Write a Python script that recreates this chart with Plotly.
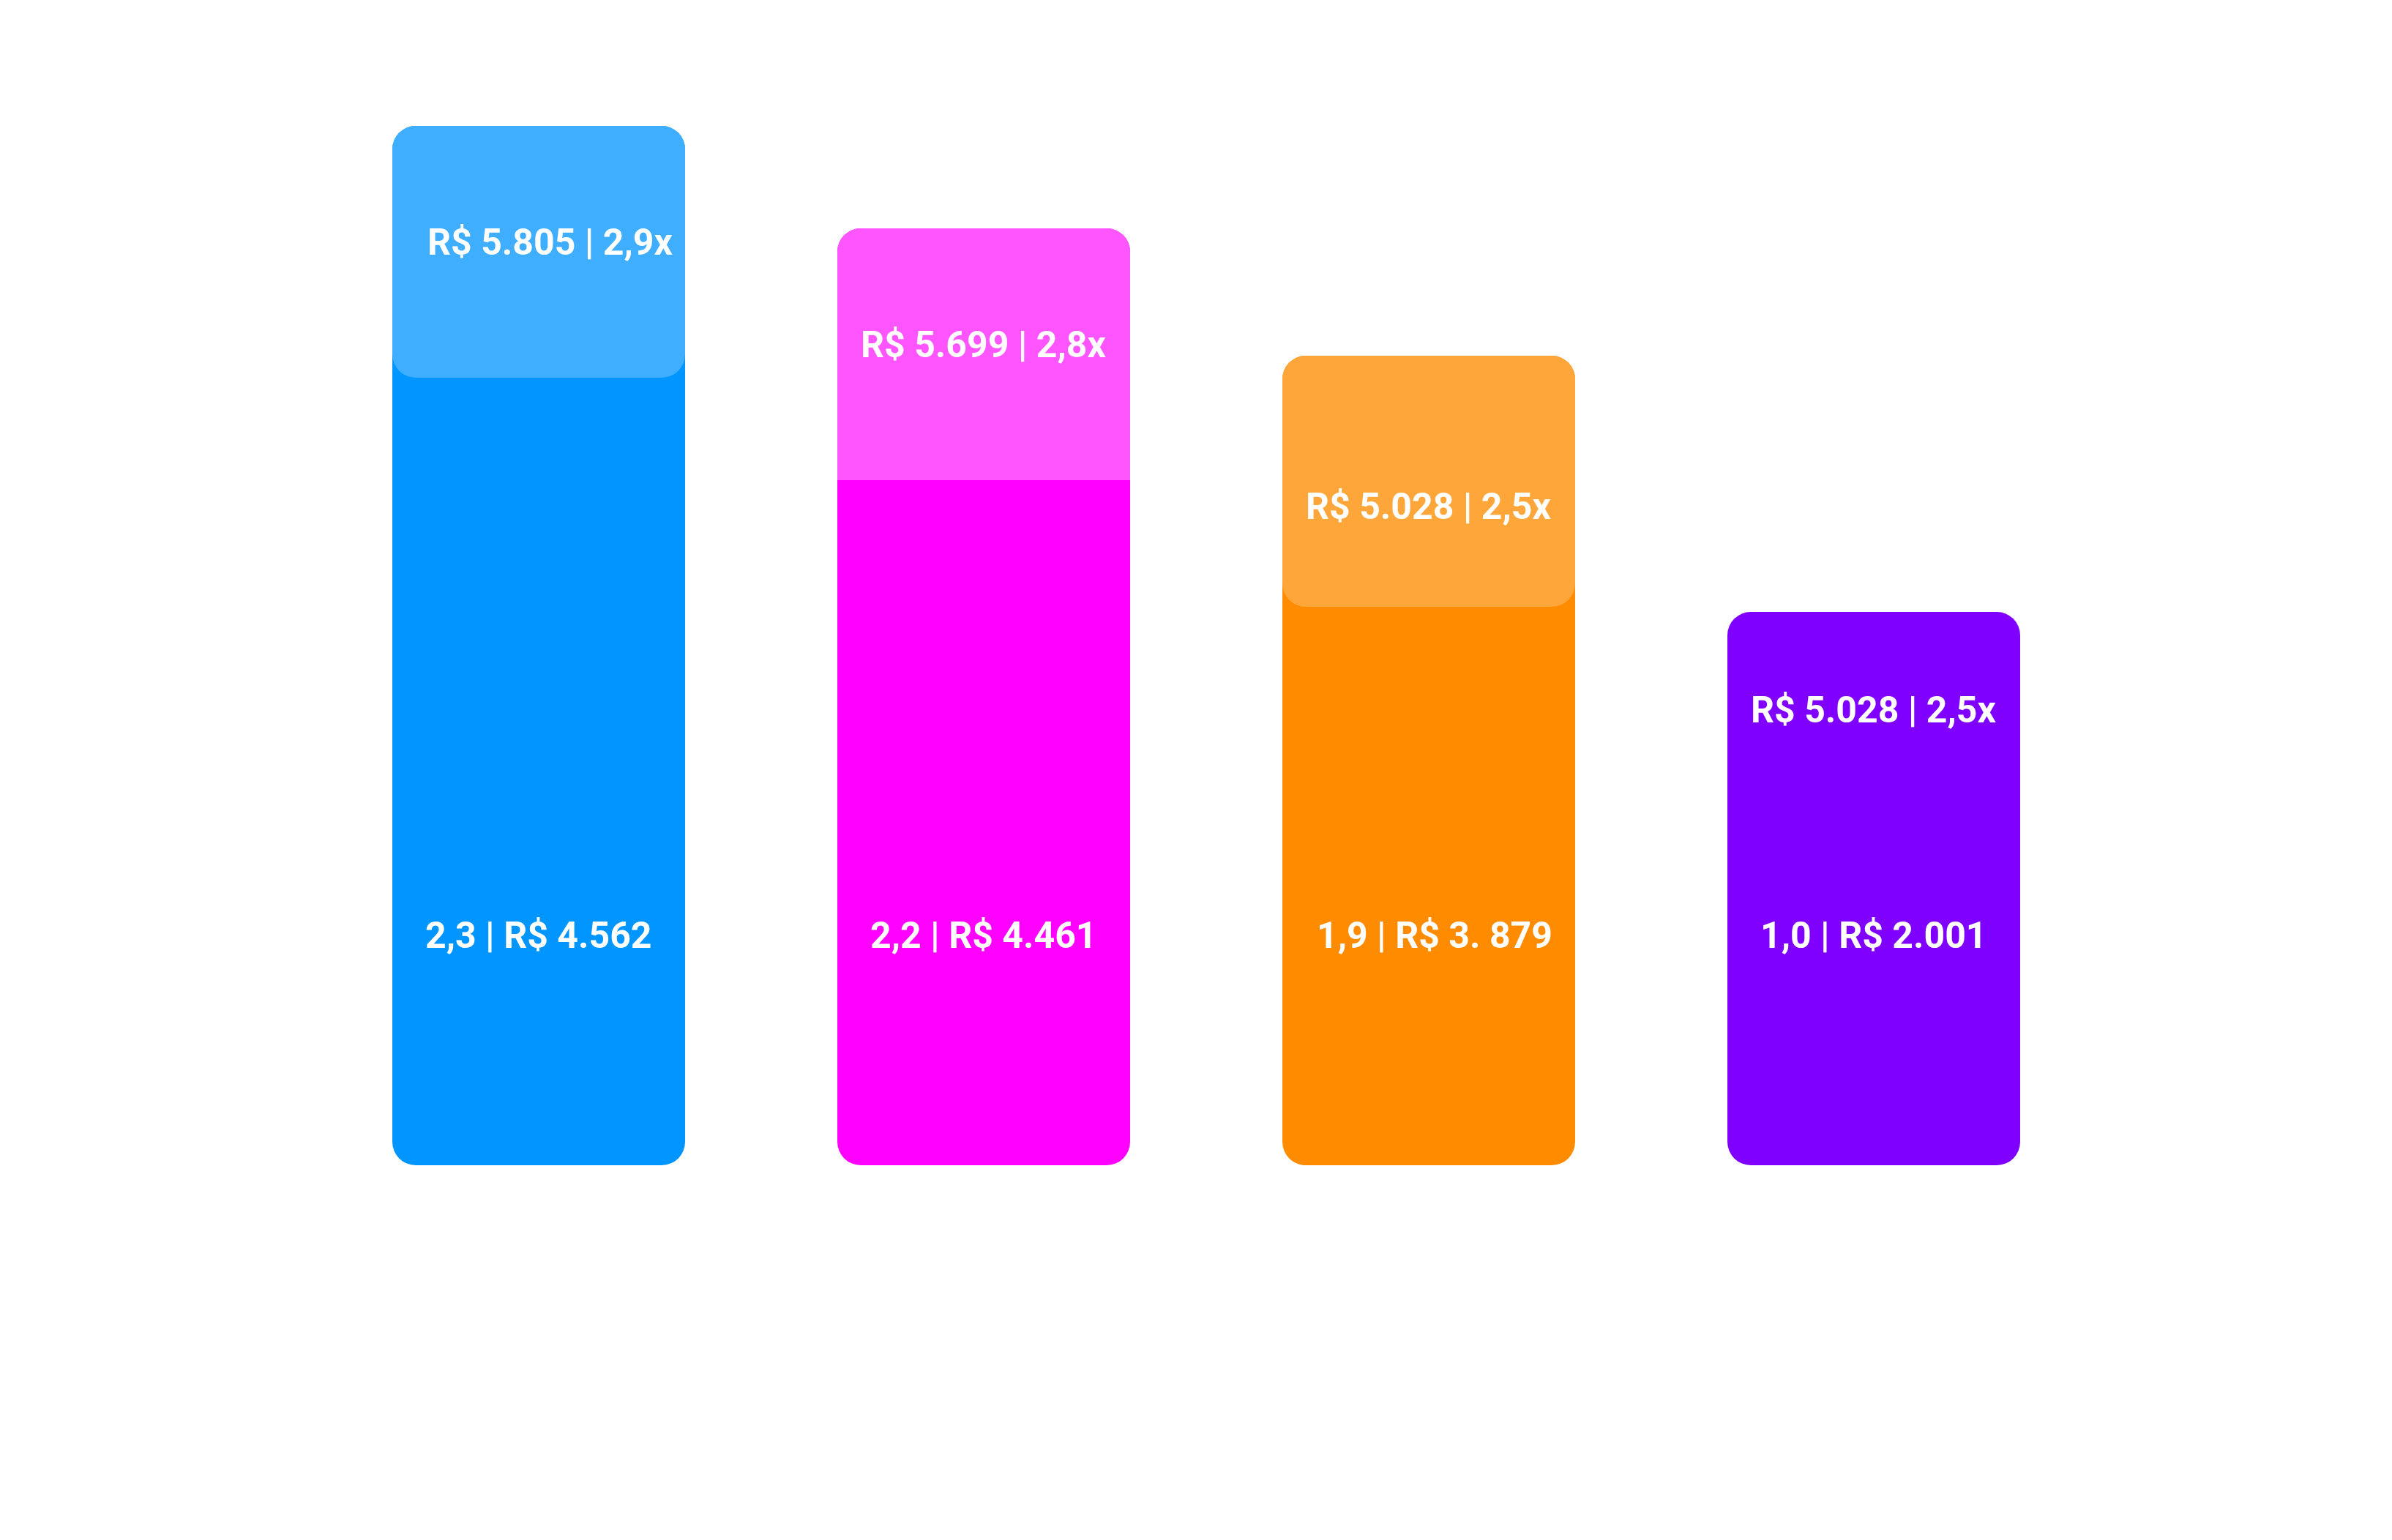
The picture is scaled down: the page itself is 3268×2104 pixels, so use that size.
import plotly.graph_objects as go

# ---- data ----
categories = [0, 1, 2, 3]
total_height = [1420, 1280, 1106, 756]          # full bar height (chart units)
highlight_height = [344, 344, 343, 0]           # lighter top segment height
highlight_round_bottom = [True, False, True, False]
dark_colors = ["#0095FF", "#FF00FF", "#FF8C00", "#8000FF"]
light_colors = ["#40AEFF", "#FF55FF", "#FFA63B", "#8000FF"]

top_labels = ["R$ 5.805 | 2,9x", "R$ 5.699 | 2,8x", "R$ 5.028 | 2,5x", "R$ 5.028 | 2,5x"]
top_label_y = [1261, 1121, 900, 622]
top_label_xshift = [16, 0, 0, 0]
bottom_labels = ["2,3 | R$ 4.562", "2,2 | R$ 4.461", "1,9 | R$ 3. 879", "1,0 | R$ 2.001"]
bottom_label_y = [314, 314, 314, 314]
bottom_label_xshift = [0, 0, 8, 0]

Y_RANGE = [-512, 1592]
X_RANGE = [-736 / 608, (3268 - 736) / 608]
BAR_W = 400 / 608
RADIUS = 32

fig = go.Figure()

# dark full bar: upper part (rounded top) + lower part (rounded bottom), overlapping
fig.add_trace(go.Bar(
    x=categories, base=[h * 0.4 for h in total_height], y=[h * 0.6 for h in total_height],
    width=BAR_W, marker=dict(color=dark_colors, line=dict(width=0), cornerradius=RADIUS),
    hoverinfo="skip"))
fig.add_trace(go.Bar(
    x=categories, base=[h * 0.6 for h in total_height], y=[-h * 0.6 for h in total_height],
    width=BAR_W, marker=dict(color=dark_colors, line=dict(width=0), cornerradius=RADIUS),
    hoverinfo="skip"))

# light highlight segments with rounded bottom (two overlapping halves)
sel = [i for i in range(len(categories)) if highlight_height[i] > 0 and highlight_round_bottom[i]]
fig.add_trace(go.Bar(
    x=[categories[i] for i in sel],
    base=[total_height[i] - highlight_height[i] * 0.6 for i in sel],
    y=[highlight_height[i] * 0.6 for i in sel],
    width=BAR_W, marker=dict(color=[light_colors[i] for i in sel], line=dict(width=0), cornerradius=RADIUS),
    hoverinfo="skip"))
fig.add_trace(go.Bar(
    x=[categories[i] for i in sel],
    base=[total_height[i] - highlight_height[i] * 0.4 for i in sel],
    y=[-highlight_height[i] * 0.6 for i in sel],
    width=BAR_W, marker=dict(color=[light_colors[i] for i in sel], line=dict(width=0), cornerradius=RADIUS),
    hoverinfo="skip"))

# light highlight segments with square bottom: own overlaid y axis whose zero sits at the boundary
sq = [i for i in range(len(categories)) if highlight_height[i] > 0 and not highlight_round_bottom[i]]
extra_axes = {}
for k, i in enumerate(sq):
    ax_id = k + 2
    boundary = total_height[i] - highlight_height[i]
    fig.add_trace(go.Bar(
        x=[categories[i]], y=[highlight_height[i]], yaxis=f"y{ax_id}",
        width=BAR_W, marker=dict(color=light_colors[i], line=dict(width=0), cornerradius=RADIUS),
        hoverinfo="skip"))
    extra_axes[f"yaxis{ax_id}"] = dict(
        range=[Y_RANGE[0] - boundary, Y_RANGE[1] - boundary],
        overlaying="y", visible=False, fixedrange=True)

font = dict(family="Roboto", size=50, color="white", weight="bold")
for c, txt, yy, xs in zip(categories, top_labels, top_label_y, top_label_xshift):
    fig.add_annotation(x=c, y=yy, text=txt, showarrow=False, xshift=xs,
                       xanchor="center", yanchor="middle", font=font)
for c, txt, yy, xs in zip(categories, bottom_labels, bottom_label_y, bottom_label_xshift):
    fig.add_annotation(x=c, y=yy, text=txt, showarrow=False, xshift=xs,
                       xanchor="center", yanchor="middle", font=font)

fig.update_layout(
    width=3268, height=2104,
    margin=dict(l=0, r=0, t=0, b=0),
    paper_bgcolor="white", plot_bgcolor="white",
    barmode="overlay", showlegend=False,
    xaxis=dict(range=X_RANGE, visible=False, fixedrange=True),
    yaxis=dict(range=Y_RANGE, visible=False, fixedrange=True),
    **extra_axes,
)

fig.write_html("out.html")
